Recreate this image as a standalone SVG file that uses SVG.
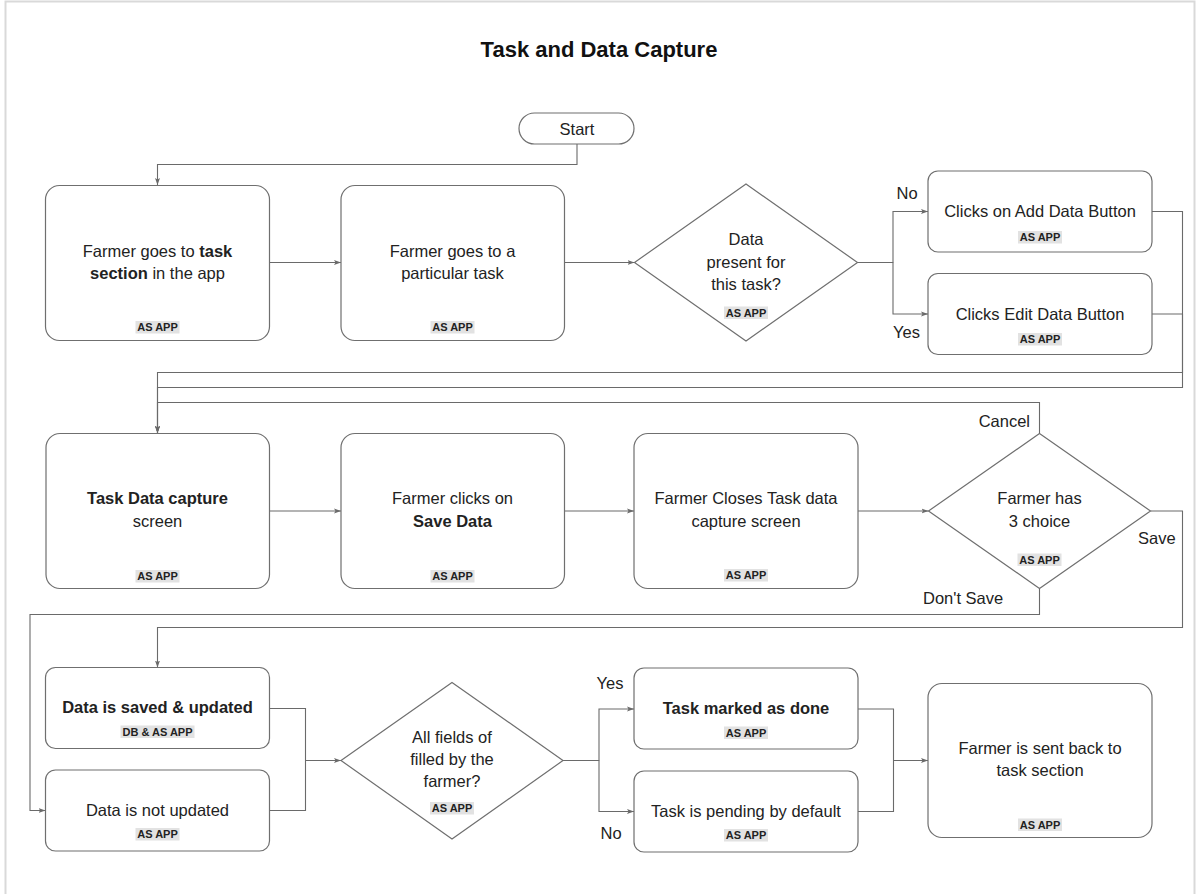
<svg xmlns="http://www.w3.org/2000/svg" width="1198" height="894" viewBox="0 0 1198 894">
<style>
.frame{fill:#ffffff;stroke:#d9d9d9;stroke-width:2}
.node{fill:#ffffff;stroke:#6f6f6f;stroke-width:1.2}
.conn{fill:none;stroke:#6a6a6a;stroke-width:1.1}
.t{font-family:"Liberation Sans",Arial,sans-serif;font-size:16.5px;fill:#222;text-anchor:middle}
.lbl{font-family:"Liberation Sans",Arial,sans-serif;font-size:16.5px;fill:#222}
.b{font-weight:bold}
.tag{font-family:"Liberation Sans",Arial,sans-serif;font-size:11px;font-weight:bold;fill:#222;text-anchor:middle}
.hl{fill:#e2e2e2}
.title{font-family:"Liberation Sans",Arial,sans-serif;font-size:22px;font-weight:bold;fill:#111;text-anchor:middle}
</style>
<defs>
<marker id="arr" markerWidth="8" markerHeight="6" refX="7" refY="3" orient="auto" markerUnits="userSpaceOnUse">
<path d="M0,0.5 L7,3 L0,5.5 L1.5,3 z" fill="#6a6a6a"/>
</marker>
</defs>
<rect class="frame" x="5.5" y="1.5" width="1189" height="900"/>
<text class="title" x="599" y="57">Task and Data Capture</text>

<g id="connectors">
<path class="conn" d="M577,144 V164.5 H157.5 V185" marker-end="url(#arr)"/>
<path class="conn" d="M269.5,262.5 H341" marker-end="url(#arr)"/>
<path class="conn" d="M564.5,262.5 H634.5" marker-end="url(#arr)"/>
<path class="conn" d="M857.5,262.5 H893 V211.5 H928" marker-end="url(#arr)"/>
<path class="conn" d="M893,262.5 V314 H928" marker-end="url(#arr)"/>
<path class="conn" d="M1152,211.5 H1182.5 V372.5 H157.5 V433" marker-end="url(#arr)"/>
<path class="conn" d="M1152,314 H1182.5 V387.5 H157.5 V433" marker-end="url(#arr)"/>
<path class="conn" d="M269.5,511 H341" marker-end="url(#arr)"/>
<path class="conn" d="M564.5,511 H634" marker-end="url(#arr)"/>
<path class="conn" d="M858,511 H928.5" marker-end="url(#arr)"/>
<path class="conn" d="M1039.5,433.5 V402.5 H157.5 V433" marker-end="url(#arr)"/>
<path class="conn" d="M1150.5,511 H1182.5 V627.5 H157.5 V667.5" marker-end="url(#arr)"/>
<path class="conn" d="M1039.5,588.5 V614.5 H30 V810.5 H45.5" marker-end="url(#arr)"/>
<path class="conn" d="M269.5,708.5 H305.5 V760.5 H341" marker-end="url(#arr)"/>
<path class="conn" d="M269.5,810.5 H305.5 V760.5"/>
<path class="conn" d="M563,760.5 H599 V709 H634" marker-end="url(#arr)"/>
<path class="conn" d="M599,760.5 V811.5 H634" marker-end="url(#arr)"/>
<path class="conn" d="M858,709 H893.5 V760.5 H928" marker-end="url(#arr)"/>
<path class="conn" d="M858,811.5 H893.5 V760.5"/>
<text class="lbl" x="896.5" y="199">No</text>
<text class="lbl" x="893" y="338">Yes</text>
<text class="lbl" x="1030" y="427" text-anchor="end">Cancel</text>
<text class="lbl" x="1138" y="544">Save</text>
<text class="lbl" x="923" y="603.5">Don't Save</text>
<text class="lbl" x="596.5" y="689">Yes</text>
<text class="lbl" x="600.5" y="838.5">No</text>
</g>

<g id="start">
<rect class="node" x="519" y="113" width="115" height="31" rx="15.5"/>
<text class="t" x="577" y="135">Start</text>
</g>

<g id="goto-task-section">
<rect class="node" x="45.5" y="185.5" width="224" height="155" rx="14"/>
<text class="t" x="157.5" y="257">Farmer goes to <tspan class="b">task</tspan></text>
<text class="t" x="157.5" y="279"><tspan class="b">section</tspan> in the app</text>
<rect class="hl" x="135.5" y="321" width="44" height="12.5"/>
<text class="tag" x="157.5" y="331">AS APP</text>
</g>

<g id="goto-task">
<rect class="node" x="341" y="185.5" width="223.5" height="155" rx="14"/>
<text class="t" x="452.5" y="257">Farmer goes to a</text>
<text class="t" x="452.5" y="279">particular task</text>
<rect class="hl" x="430.5" y="321" width="44" height="12.5"/>
<text class="tag" x="452.5" y="331">AS APP</text>
</g>

<g id="data-present">
<polygon class="node" points="746,184 857.5,262.5 746,341 634.5,262.5"/>
<text class="t" x="746" y="245">Data</text>
<text class="t" x="746" y="267.5">present for</text>
<text class="t" x="746" y="290">this task?</text>
<rect class="hl" x="724" y="306.5" width="44" height="12.5"/>
<text class="tag" x="746" y="316.5">AS APP</text>
</g>

<g id="add-data">
<rect class="node" x="928" y="171" width="224" height="81" rx="10"/>
<text class="t" x="1040" y="217">Clicks on Add Data Button</text>
<rect class="hl" x="1018" y="231" width="44" height="12.5"/>
<text class="tag" x="1040" y="241">AS APP</text>
</g>

<g id="edit-data">
<rect class="node" x="928" y="273.5" width="224" height="81" rx="10"/>
<text class="t" x="1040" y="319.5">Clicks Edit Data Button</text>
<rect class="hl" x="1018" y="333" width="44" height="12.5"/>
<text class="tag" x="1040" y="343">AS APP</text>
</g>

<g id="capture-screen">
<rect class="node" x="46" y="433.5" width="223.5" height="155" rx="14"/>
<text class="t" x="157.5" y="504" font-weight="bold">Task Data capture</text>
<text class="t" x="157.5" y="527">screen</text>
<rect class="hl" x="135.5" y="570" width="44" height="12.5"/>
<text class="tag" x="157.5" y="580">AS APP</text>
</g>

<g id="save-data">
<rect class="node" x="341" y="433.5" width="223.5" height="155" rx="14"/>
<text class="t" x="452.5" y="504">Farmer clicks on</text>
<text class="t" x="452.5" y="527" font-weight="bold">Save Data</text>
<rect class="hl" x="430.5" y="570" width="44" height="12.5"/>
<text class="tag" x="452.5" y="580">AS APP</text>
</g>

<g id="close-screen">
<rect class="node" x="634" y="433.5" width="224" height="155" rx="14"/>
<text class="t" x="746" y="504">Farmer Closes Task data</text>
<text class="t" x="746" y="527">capture screen</text>
<rect class="hl" x="724" y="569" width="44" height="12.5"/>
<text class="tag" x="746" y="579">AS APP</text>
</g>

<g id="three-choice">
<polygon class="node" points="1039.5,433.5 1150.5,511 1039.5,588.5 928.5,511"/>
<text class="t" x="1039.5" y="504">Farmer has</text>
<text class="t" x="1039.5" y="527">3 choice</text>
<rect class="hl" x="1017.5" y="553.5" width="44" height="12.5"/>
<text class="tag" x="1039.5" y="563.5">AS APP</text>
</g>

<g id="data-saved">
<rect class="node" x="45.5" y="667.5" width="224" height="81" rx="10"/>
<text class="t" x="157.5" y="713" font-weight="bold">Data is saved &amp; updated</text>
<rect class="hl" x="120.5" y="725.5" width="74" height="12.5"/>
<text class="tag" x="157.5" y="735.5">DB &amp; AS APP</text>
</g>

<g id="not-updated">
<rect class="node" x="45.5" y="770" width="224" height="81" rx="10"/>
<text class="t" x="157.5" y="816">Data is not updated</text>
<rect class="hl" x="135.5" y="828" width="44" height="12.5"/>
<text class="tag" x="157.5" y="838">AS APP</text>
</g>

<g id="all-fields">
<polygon class="node" points="452,682.5 563,760.5 452,839 341,760.5"/>
<text class="t" x="452" y="743">All fields of</text>
<text class="t" x="452" y="765">filled by the</text>
<text class="t" x="452" y="787">farmer?</text>
<rect class="hl" x="430" y="802" width="44" height="12.5"/>
<text class="tag" x="452" y="812">AS APP</text>
</g>

<g id="task-done">
<rect class="node" x="634" y="668" width="224" height="81" rx="10"/>
<text class="t" x="746" y="714" font-weight="bold">Task marked as done</text>
<rect class="hl" x="724" y="726.5" width="44" height="12.5"/>
<text class="tag" x="746" y="736.5">AS APP</text>
</g>

<g id="task-pending">
<rect class="node" x="634" y="771" width="224" height="81" rx="10"/>
<text class="t" x="746" y="817">Task is pending by default</text>
<rect class="hl" x="724" y="829" width="44" height="12.5"/>
<text class="tag" x="746" y="839">AS APP</text>
</g>

<g id="back-to-section">
<rect class="node" x="928" y="683.5" width="224" height="154" rx="14"/>
<text class="t" x="1040" y="753.5">Farmer is sent back to</text>
<text class="t" x="1040" y="775.5">task section</text>
<rect class="hl" x="1018" y="818.5" width="44" height="12.5"/>
<text class="tag" x="1040" y="828.5">AS APP</text>
</g>
</svg>
